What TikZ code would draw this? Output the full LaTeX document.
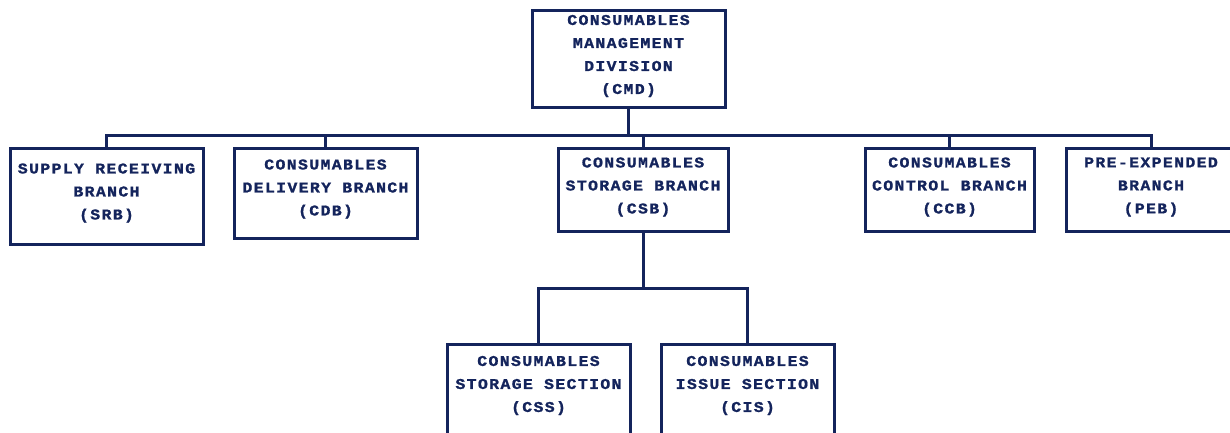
\documentclass[tikz,border=0pt]{standalone}
\usepackage{fontspec}
\setmainfont{Liberation Mono}[FakeStretch=1.1,LetterSpace=9,BoldFeatures={FakeBold=1.2}]
\definecolor{navy}{HTML}{14245C}
\begin{document}
\begin{tikzpicture}[x=1pt,y=-1pt,
  box/.style={draw=navy,line width=3pt,rectangle,inner sep=0pt},
  txt/.style={text=navy,align=center,inner sep=0pt,font=\fontsize{15}{23}\selectfont\bfseries},
  conn/.style={draw=navy,line width=3pt,line cap=butt}]
\useasboundingbox (0,0) rectangle (1230,432);
% boxes
\node[box,minimum width=193pt,minimum height=97pt] (cmd) at (628.5,58.5) {};
\node[box,minimum width=193pt,minimum height=96pt] (srb) at (106.5,196) {};
\node[box,minimum width=183pt,minimum height=90pt] (cdb) at (325.5,193) {};
\node[box,minimum width=170pt,minimum height=83pt] (csb) at (643,189.5) {};
\node[box,minimum width=169pt,minimum height=83pt] (ccb) at (949.5,189.5) {};
\node[box,minimum width=170pt,minimum height=83pt] (peb) at (1151,189.5) {};
\node[box,minimum width=183pt,minimum height=110pt] (css) at (538.5,399) {};
\node[box,minimum width=173pt,minimum height=110pt] (cis) at (747.5,399) {};
% texts
\node[txt] (tcmd) at (628.5,56) {CONSUMABLES\\MANAGEMENT\\DIVISION\\(CMD)};
\node[txt] (tsrb) at (106.5,193) {SUPPLY RECEIVING\\BRANCH\\(SRB)};
\node[txt] (tcdb) at (325.5,189) {CONSUMABLES\\DELIVERY BRANCH\\(CDB)};
\node[txt] (tcsb) at (643,187) {CONSUMABLES\\STORAGE BRANCH\\(CSB)};
\node[txt] (tccb) at (949.5,187) {CONSUMABLES\\CONTROL BRANCH\\(CCB)};
\node[txt] (tpeb) at (1151,187) {PRE-EXPENDED\\BRANCH\\(PEB)};
\node[txt] (tcss) at (538.5,385.5) {CONSUMABLES\\STORAGE SECTION\\(CSS)};
\node[txt] (tcis) at (747.5,385.5) {CONSUMABLES\\ISSUE SECTION\\(CIS)};
% bus coordinates
\coordinate (bus) at (0,135);
\coordinate (sbus) at (0,288);
% connectors
\draw[conn] (cmd.south) -- (cmd.south |- bus);
\draw[conn] (srb.north) -- (srb.north |- bus) -- (peb.north |- bus) -- (peb.north);
\draw[conn] (cdb.north) -- (cdb.north |- bus);
\draw[conn] (csb.north) -- (csb.north |- bus);
\draw[conn] (ccb.north) -- (ccb.north |- bus);
\draw[conn] (csb.south) -- (csb.south |- sbus);
\draw[conn] (css.north) -- (css.north |- sbus) -- (cis.north |- sbus) -- (cis.north);
\end{tikzpicture}
\end{document}
